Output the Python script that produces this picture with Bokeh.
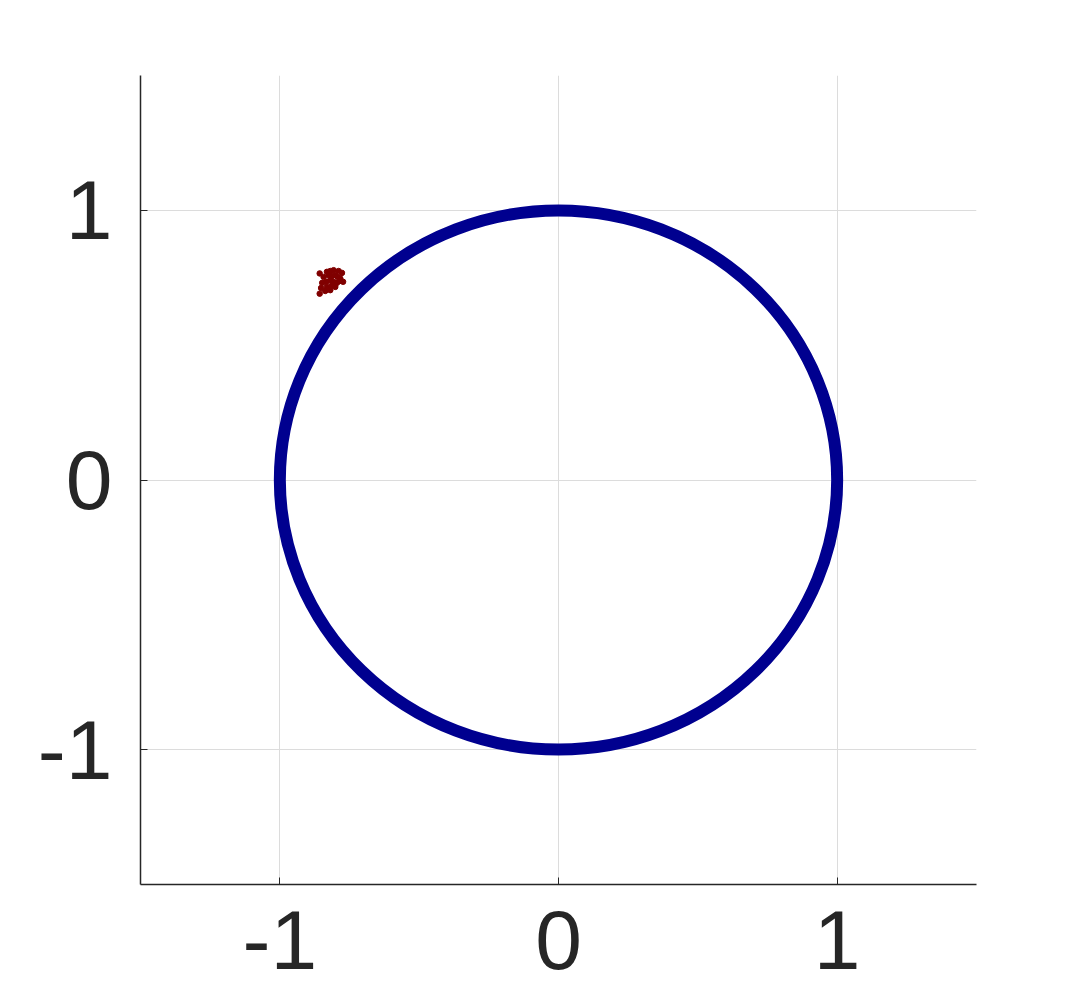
from bokeh.plotting import figure
from bokeh.embed import file_html
from bokeh.resources import INLINE
from bokeh.models import Range1d, FixedTicker

# Ring data: unit circle centre and radius (band of noisy points)
ring_cx = [0.0]
ring_cy = [0.0]
ring_diameter = [2.0]

# Small cluster of outlier points
cluster_x = [-0.857, -0.831, -0.819, -0.807, -0.789, -0.777, -0.843, -0.825, -0.813,
             -0.801, -0.792, -0.783, -0.773, -0.848, -0.833, -0.819, -0.807, -0.795,
             -0.785, -0.852, -0.831, -0.813, -0.801, -0.857, -0.819, -0.837]
cluster_y = [0.766, 0.772, 0.775, 0.778, 0.775, 0.768, 0.753, 0.759, 0.756,
             0.759, 0.753, 0.747, 0.735, 0.731, 0.735, 0.741, 0.735, 0.731,
             0.738, 0.712, 0.716, 0.722, 0.716, 0.691, 0.704, 0.701]

ticks = [-1, 0, 1]
tick_labels = {-1: "-1", 0: "0", 1: "1"}

p = figure(width=1072, height=992, output_backend="svg", toolbar_location=None,
           x_range=Range1d(-1.5, 1.5), y_range=Range1d(-1.5, 1.5),
           min_border_left=140, min_border_right=96, min_border_top=75,
           min_border_bottom=108)
p.outline_line_color = None
p.background_fill_color = "white"
p.border_fill_color = "white"

for ax in (p.xaxis, p.yaxis):
    ax.ticker = FixedTicker(ticks=ticks)
    ax.major_label_overrides = tick_labels
    ax.major_label_text_font = "Liberation Sans"
    ax.major_label_text_font_size = "84px"
    ax.major_label_text_color = "#262626"
    ax.axis_line_color = "#262626"
    ax.axis_line_width = 1.5
    ax.major_tick_line_color = "#262626"
    ax.major_tick_in = 7
    ax.major_tick_out = 0
    ax.minor_tick_line_color = None
p.xaxis.major_label_standoff = 26
p.yaxis.major_label_standoff = 28

p.xgrid.ticker = FixedTicker(ticks=ticks)
p.ygrid.ticker = FixedTicker(ticks=ticks)
p.grid.grid_line_color = "#dcdcdc"
p.grid.grid_line_width = 1

p.ellipse(x=ring_cx, y=ring_cy, width=ring_diameter, height=ring_diameter,
          fill_color=None, line_color="#00008F", line_width=12)

p.scatter(cluster_x, cluster_y, size=5.5, fill_color="#800000", line_color="#800000")

open("out.html", "w").write(file_html(p, INLINE))
